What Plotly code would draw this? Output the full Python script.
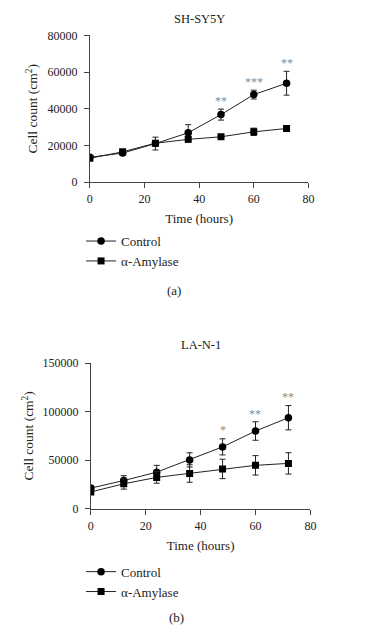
import plotly.graph_objects as go

# ---- data ----
hours = [0, 12, 24, 36, 48, 60, 72]

a_control = [13500, 15800, 21000, 26900, 36800, 47700, 53900]
a_control_err = [800, 900, 3500, 4400, 3000, 2400, 6500]
a_amylase = [13000, 16500, 21200, 23300, 24700, 27400, 29200]
a_amylase_err = [800, 900, 1200, 1500, 900, 2000, 800]

b_control = [21300, 29000, 37700, 50300, 63700, 80000, 93700]
b_control_err = [2000, 5000, 7000, 7300, 8300, 9500, 12500]
b_amylase = [17300, 25700, 32300, 36300, 41000, 44700, 46700]
b_amylase_err = [2000, 5500, 6000, 9000, 10000, 10000, 11000]

a_sig_hours = [48, 60, 72]
a_sig_labels = ["**", "***", "**"]
a_sig_y = [44000, 54600, 65200]

b_sig_hours = [48, 60, 72]
b_sig_labels = ["*", "**", "**"]
b_sig_y = [81300, 98000, 114700]

a_title = "SH-SY5Y"
b_title = "LA-N-1"
y_label = "Cell count (cm<sup>2</sup>)"
x_label = "Time (hours)"
names = ["Control", "α-Amylase"]

W, H = 372, 639
FONT = "Liberation Serif, Times New Roman, serif"
INK = "#222222"

def px_x(p):
    return p / W

def px_y(p):
    return 1 - p / H

fig = go.Figure()

def add_panel(xa, ya, legend, ctrl, ctrl_err, amy, amy_err):
    fig.add_trace(go.Scatter(
        x=hours, y=ctrl, name=names[0], mode="lines+markers",
        line=dict(color=INK, width=1),
        marker=dict(symbol="circle", size=7.5, color="black"),
        error_y=dict(type="data", array=ctrl_err, color=INK, thickness=1, width=3),
        xaxis=xa, yaxis=ya, legend=legend,
    ))
    fig.add_trace(go.Scatter(
        x=hours, y=amy, name=names[1], mode="lines+markers",
        line=dict(color=INK, width=1),
        marker=dict(symbol="square", size=7, color="black"),
        error_y=dict(type="data", array=amy_err, color=INK, thickness=1, width=3),
        xaxis=xa, yaxis=ya, legend=legend,
    ))

add_panel("x", "y", "legend", a_control, a_control_err, a_amylase, a_amylase_err)
add_panel("x2", "y2", "legend2", b_control, b_control_err, b_amylase, b_amylase_err)

axis_common = dict(
    showline=True, linecolor="#444", linewidth=1, ticks="outside", ticklen=5,
    tickcolor="#444", tickwidth=1, showgrid=False, zeroline=False,
    tickfont=dict(family=FONT, size=12, color=INK),
)
xt_font = dict(family=FONT, size=13, color=INK)
yt_font = dict(family=FONT, size=13.5, color=INK)

fig.update_layout(
    width=W, height=H, margin=dict(l=0, r=0, t=0, b=0),
    paper_bgcolor="white", plot_bgcolor="white",
    font=dict(family=FONT, color=INK),
    xaxis=dict(domain=[px_x(89), px_x(313)], range=[0, 80], dtick=20, anchor="y",
               ticklabelstandoff=1,
               title=dict(text=x_label, standoff=8, font=xt_font), **axis_common),
    yaxis=dict(domain=[px_y(179), px_y(29)], range=[0, 80000], dtick=20000, anchor="x",
               tickformat="d", ticklabelstandoff=4,
               title=dict(text=y_label, standoff=6, font=yt_font), **axis_common),
    xaxis2=dict(domain=[px_x(90), px_x(315)], range=[0, 80], dtick=20, anchor="y2",
                ticklabelstandoff=1,
                title=dict(text=x_label, standoff=8, font=xt_font), **axis_common),
    yaxis2=dict(domain=[px_y(513), px_y(364)], range=[0, 150000], dtick=50000, anchor="x2",
                tickformat="d", ticklabelstandoff=4,
                title=dict(text=y_label, standoff=5, font=yt_font), **axis_common),
    legend=dict(x=px_x(80), y=px_y(224), xanchor="left", yanchor="top",
                font=dict(family=FONT, size=13, color=INK), bgcolor="rgba(0,0,0,0)",
                tracegroupgap=0, itemwidth=30),
    legend2=dict(x=px_x(80), y=px_y(562), xanchor="left", yanchor="top",
                 font=dict(family=FONT, size=13, color=INK), bgcolor="rgba(0,0,0,0)",
                 tracegroupgap=0, itemwidth=30),
)

annotations = [
    dict(text=a_title, x=px_x(201), y=px_y(12), xref="paper", yref="paper",
         xanchor="center", yanchor="middle",
         showarrow=False, font=dict(family=FONT, size=12.5, color=INK)),
    dict(text=b_title, x=px_x(203), y=px_y(346), xref="paper", yref="paper",
         xanchor="center", yanchor="middle",
         showarrow=False, font=dict(family=FONT, size=12.5, color=INK)),
    dict(text="(a)", x=px_x(175), y=px_y(290), xref="paper", yref="paper",
         xanchor="center", yanchor="middle",
         showarrow=False, font=dict(family=FONT, size=13, color=INK)),
    dict(text="(b)", x=px_x(178), y=px_y(624), xref="paper", yref="paper",
         xanchor="center", yanchor="middle",
         showarrow=False, font=dict(family=FONT, size=13, color=INK)),
]
for hx, lab, yy in zip(a_sig_hours, a_sig_labels, a_sig_y):
    annotations.append(dict(text=lab, x=hx, y=yy, xref="x", yref="y", showarrow=False,
                            font=dict(family=FONT, size=12, color="#8a8a8a")))
for hx, lab, yy in zip(b_sig_hours, b_sig_labels, b_sig_y):
    annotations.append(dict(text=lab, x=hx, y=yy, xref="x2", yref="y2", showarrow=False,
                            font=dict(family=FONT, size=12, color="#8a8a8a")))
fig.update_layout(annotations=annotations)

fig.write_html("out.html", config={"displayModeBar": False},
               post_script="document.body.style.margin='0';")
